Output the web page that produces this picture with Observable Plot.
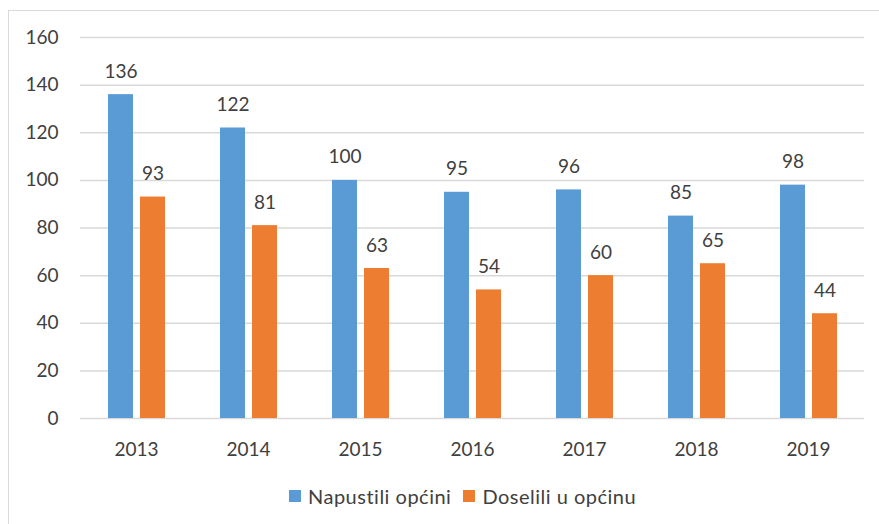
<!DOCTYPE html>
<html>
<head>
<meta charset="utf-8">
<script src="https://cdn.jsdelivr.net/npm/d3@7"></script>
<script src="https://cdn.jsdelivr.net/npm/@observablehq/plot@0.6"></script>
<style>
  html, body { margin: 0; padding: 0; background: #fff; width: 879px; height: 524px; overflow: hidden; font-family: Lato, "Open Sans", sans-serif; }
  #wrap { position: relative; width: 879px; height: 524px; }
  #frame { position: absolute; left: 8px; top: 10px; width: 900px; height: 600px; border-left: 1.5px solid #d9d9d9; border-top: 1.5px solid #d9d9d9; box-sizing: border-box; }
  #chart { position: absolute; left: 0; top: 0; }
  #legend { position: absolute; left: 289px; top: 484px; display: flex; align-items: center; font-size: 20px; letter-spacing: 0.5px; color: #404040; white-space: nowrap; }
  .sw { width: 12px; height: 12px; display: inline-block; margin-right: 7px; }
  .item { display: flex; align-items: center; margin-right: 12px; }
</style>
</head>
<body>
<div id="wrap">
  <div id="frame"></div>
  <div id="chart"></div>
  <div id="legend"></div>
</div>
<script>
const years = ["2013", "2014", "2015", "2016", "2017", "2018", "2019"];
const napustili = [136, 122, 100, 95, 96, 85, 98];
const doselili = [93, 81, 63, 54, 60, 65, 44];
const seriesNames = ["Napustili općini", "Doselili u općinu"];
const seriesColors = ["#5B9BD5", "#ED7D31"];
const yTicks = [0, 20, 40, 60, 80, 100, 120, 140, 160];

const data = years.flatMap((y, i) => [
  {year: y, series: seriesNames[0], value: napustili[i]},
  {year: y, series: seriesNames[1], value: doselili[i]}
]);

const chart = Plot.plot({
  width: 879,
  height: 470,
  marginLeft: 80,
  marginRight: 15,
  marginTop: 37,
  marginBottom: 52,
  style: {fontFamily: "Lato, 'Open Sans', sans-serif", fontSize: "19px", color: "#404040", background: "transparent"},
  fx: {domain: years, paddingInner: 0, paddingOuter: 0, label: null, axis: null},
  x: {domain: seriesNames, paddingInner: 0.219, paddingOuter: 0.859, axis: null},
  y: {domain: [0, 160], label: null, axis: null},
  color: {domain: seriesNames, range: seriesColors},
  marks: [
    Plot.gridY(yTicks, {stroke: "#d9d9d9", strokeOpacity: 1, strokeWidth: 1.5}),
    Plot.axisY(yTicks, {tickSize: 0, tickPadding: 22, label: null, fill: "#404040", fontSize: 19}),
    Plot.axisFx({anchor: "bottom", tickSize: 0, tickPadding: 24, label: null, fill: "#404040", fontSize: 19}),
    Plot.barY(data, {fx: "year", x: "series", y: "value", fill: "series"}),
    Plot.text(data, {fx: "year", x: "series", y: "value", text: d => String(d.value), dy: -23, fill: "#404040", fontSize: 19})
  ]
});
document.getElementById("chart").appendChild(chart);

const legend = document.getElementById("legend");
seriesNames.forEach((name, i) => {
  const item = document.createElement("div");
  item.className = "item";
  const sw = document.createElement("span");
  sw.className = "sw";
  sw.style.background = seriesColors[i];
  const t = document.createElement("span");
  t.textContent = name;
  item.appendChild(sw);
  item.appendChild(t);
  legend.appendChild(item);
});
</script>
</body>
</html>
